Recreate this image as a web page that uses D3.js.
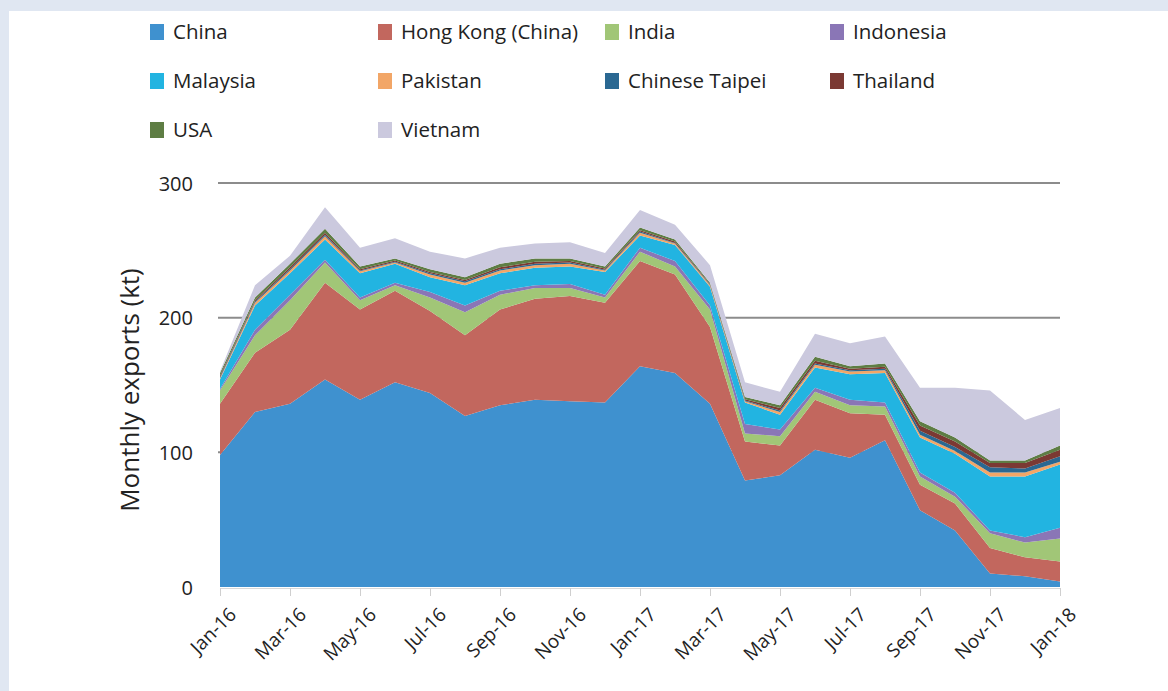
<!DOCTYPE html>
<html><head><meta charset="utf-8">
<script src="https://cdn.jsdelivr.net/npm/d3@7"></script>
<style>
body{margin:0;background:#e0e7f2;}
svg{display:block;font-family:"Open Sans",sans-serif;}
</style></head>
<body><svg id="chart" width="1168" height="691"></svg>
<script>
const months = ["Jan-16","Feb-16","Mar-16","Apr-16","May-16","Jun-16","Jul-16","Aug-16","Sep-16","Oct-16","Nov-16","Dec-16",
"Jan-17","Feb-17","Mar-17","Apr-17","May-17","Jun-17","Jul-17","Aug-17","Sep-17","Oct-17","Nov-17","Dec-17","Jan-18"];
const tickLabels = ["Jan-16","Mar-16","May-16","Jul-16","Sep-16","Nov-16","Jan-17","Mar-17","May-17","Jul-17","Sep-17","Nov-17","Jan-18"];
const yTicks = [0,100,200,300];
const seriesNames = ["China","Hong Kong (China)","India","Indonesia","Malaysia","Pakistan","Chinese Taipei","Thailand","USA","Vietnam"];
const china     = [98,130,136,154,139,152,144,127,135,139,138,137,164,159,136,79,83,102,96,109,57,42,10,8,4];
const hongKong  = [38,44,55,72,67,68,61,60,71,75,78,74,78,73,57,29,22,37,33,19,19,20,19,14,15];
const india     = [10,13,22,15,7,4,10,17,11,8,6,4,7,6,13,6,7,6,6,6,6,5,11,11,17];
const indonesia = [1,4,4,2,2,2,4,5,3,2,3,2,3,4,3,7,5,3,4,3,3,3,2,4,8];
const malaysia  = [7,18,16,15,18,14,11,15,13,13,13,17,9,12,14,16,11,15,19,22,26,29,40,45,47];
const pakistan  = [1,2,2,2.5,1.5,1,2,2,2,2,2,1,2,1,1,1,2,2,2,2,2,2,3,3,2];
const taipei    = [1,1,1,1,0.5,0.5,1,1,1,1,1,0.5,1,0.5,0.5,0.5,1,1,1,1,3,3,4,3,4];
const thailand  = [1,1,1.5,1.5,1,1,1,1,1.5,1.5,1,1,1,1,0.5,1,2,2,1,1.5,4,4,3,4,5];
const usa       = [2,2,2.5,3,2,1.5,2,2,2.5,2.5,2,1.5,2,1.5,1,1.5,2,3,2,2.5,3,3,2,2,3];
const vietnam   = [1,9,6,16,14,15,13,14,12,11,12,10,13,11,13,11,10,17,17,20,25,37,52,30,28];
const colors = ["#3f91cf","#c2675e","#a1c677","#8a76b6","#22b4e1","#f2a667","#2a6892","#7b3933","#5e7d44","#cbc9de"];

const seriesData = [china,hongKong,india,indonesia,malaysia,pakistan,taipei,thailand,usa,vietnam];
const rows = months.map((m,i)=>{const r={month:m,i:i}; seriesNames.forEach((s,k)=>r[s]=seriesData[k][i]); return r;});

const svg = d3.select("#chart");
svg.append("rect").attr("x",9).attr("y",11).attr("width",1159).attr("height",680).attr("fill","#fff");

const x = d3.scalePoint().domain(months).range([220,1060]);
const y = d3.scaleLinear().domain([0,300]).range([587,183]);

// gridlines
svg.append("g").selectAll("line").data(yTicks.filter(d=>d>0)).join("line")
  .attr("x1",218).attr("x2",1060).attr("y1",d=>y(d)).attr("y2",d=>y(d))
  .attr("stroke","#8c8c8c").attr("stroke-width",2);

const stack = d3.stack().keys(seriesNames)(rows);
const area = d3.area().x(d=>x(d.data.month)).y0(d=>y(d[0])).y1(d=>y(d[1]));
svg.append("g").selectAll("path").data(stack).join("path")
  .attr("d",area).attr("fill",(d,k)=>colors[k]);

// y axis labels
const yAxis = d3.axisLeft(y).tickValues(yTicks).tickSize(0).tickPadding(0);
const gy = svg.append("g").attr("transform","translate(193,0)").call(yAxis);
gy.select(".domain").remove();
gy.selectAll("text").attr("font-size",20).attr("fill","#222").attr("font-family","Open Sans, sans-serif").attr("dy","0.35em");

// x axis
const xAxis = d3.axisBottom(x).tickValues(tickLabels).tickSize(8).tickPadding(6);
const gx = svg.append("g").attr("transform","translate(0,588)").call(xAxis);
gx.select(".domain").attr("stroke","#d8d8d8");
gx.selectAll(".tick line").attr("stroke","#cfcfcf");
gx.selectAll("text").attr("font-size",19).attr("fill","#222").attr("font-family","Open Sans, sans-serif")
  .attr("text-anchor","end").attr("dy","0").attr("transform","translate(7,18) rotate(-45)");

// y title
svg.append("text").attr("transform","translate(139,390) rotate(-90)").attr("text-anchor","middle")
  .attr("font-size",26).attr("fill","#222").text("Monthly exports (kt)");

// legend
const legX = [150,378,605,830], legY = [32,81,130];
const leg = svg.append("g").selectAll("g").data(seriesNames).join("g")
  .attr("transform",(d,k)=>`translate(${legX[k%4]},${legY[Math.floor(k/4)]})`);
leg.append("rect").attr("x",0).attr("y",-8).attr("width",14).attr("height",16).attr("fill",(d,k)=>colors[k]);
leg.append("text").attr("x",23).attr("y",0).attr("dy","0.35em").attr("font-size",20.5).attr("fill","#222").text(d=>d);
</script></body></html>
